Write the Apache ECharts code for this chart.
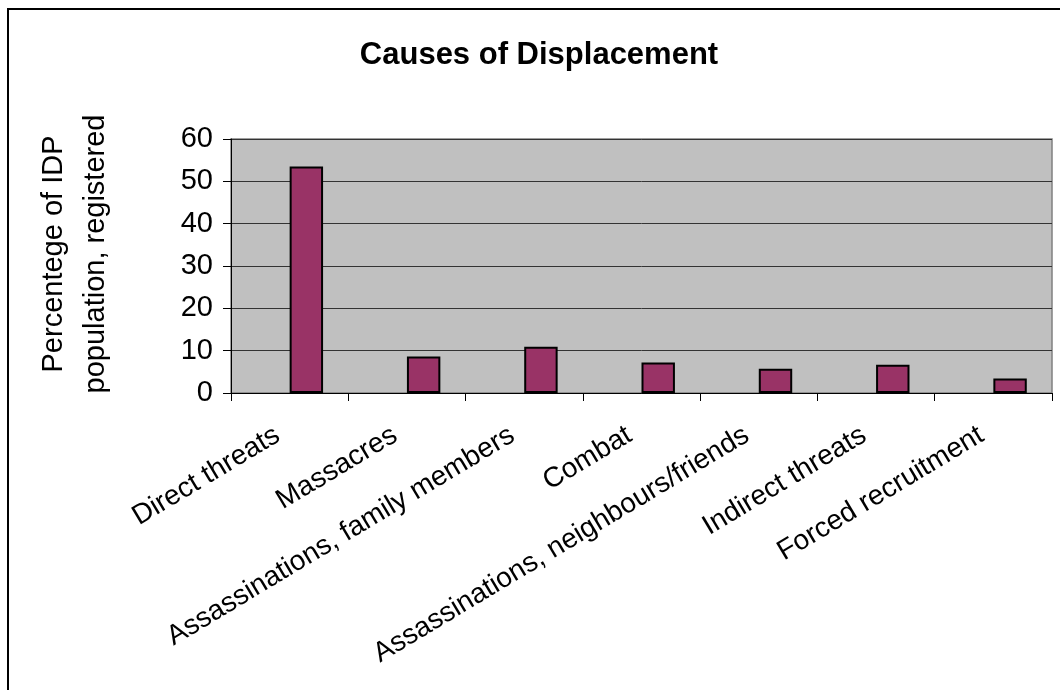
<!DOCTYPE html>
<html>
<head>
<meta charset="utf-8">
<title>Causes of Displacement</title>
<script src="https://cdn.jsdelivr.net/npm/echarts@6/dist/echarts.min.js"></script>
<style>
  html, body { margin: 0; padding: 0; background: #ffffff; }
  #chart { width: 1060px; height: 690px; }
</style>
</head>
<body>
<div id="chart"></div>
<script>
// Causes of displacement, share of registered IDP population (%)
const categories = [
  'Direct threats',
  'Massacres',
  'Assassinations, family members',
  'Combat',
  'Assassinations, neighbours/friends',
  'Indirect threats',
  'Forced recruitment'
];
const percentValues = [53.5, 8.6, 10.9, 7.2, 5.7, 6.7, 3.4];
// empty companion series: keeps the drawn bar in the right half of each category
const emptySlot = categories.map(() => null);
const yTicks = { min: 0, max: 60, step: 10 };

const FONT = '"Liberation Sans", Arial, Helvetica, sans-serif';

const chart = echarts.init(document.getElementById('chart'), null, { renderer: 'canvas' });

chart.setOption({
  animation: false,
  backgroundColor: '#ffffff',
  title: {
    text: 'Causes of Displacement',
    left: 534,
    top: 35,
    textAlign: 'center',
    textStyle: { fontFamily: FONT, fontSize: 31, fontWeight: 'bold', color: '#000' }
  },
  grid: {
    left: 231,
    right: 8,
    top: 139,
    bottom: 297,
    show: true,
    backgroundColor: '#c0c0c0',
    borderColor: '#808080',
    borderWidth: 1.5
  },
  xAxis: {
    type: 'category',
    data: categories,
    axisLine: { show: true, lineStyle: { color: '#000', width: 1 } },
    axisTick: { show: true, length: 8, lineStyle: { color: '#000' } },
    axisLabel: {
      rotate: 31,
      interval: 0,
      margin: 33,
      padding: [0, 14, 0, 0],
      fontFamily: FONT,
      fontSize: 28,
      color: '#000'
    },
    splitLine: { show: false }
  },
  yAxis: {
    type: 'value',
    min: yTicks.min,
    max: yTicks.max,
    interval: yTicks.step,
    axisLine: { show: true, lineStyle: { color: '#000', width: 1 } },
    axisTick: { show: true, length: 8, lineStyle: { color: '#000' } },
    axisLabel: { margin: 18, fontFamily: FONT, fontSize: 29, color: '#000' },
    splitLine: { show: true, lineStyle: { color: '#333', width: 1 } }
  },
  series: [
    {
      name: 'spacer',
      type: 'bar',
      data: emptySlot,
      barGap: '0%',
      barCategoryGap: '43%',
      silent: true
    },
    {
      name: 'Percentage',
      type: 'bar',
      data: percentValues,
      barGap: '0%',
      barCategoryGap: '43%',
      itemStyle: { color: '#993366', borderColor: '#000', borderWidth: 2 }
    }
  ],
  graphic: [
    {
      type: 'rect',
      shape: { x: 8, y: 9, width: 1200, height: 900 },
      style: { fill: 'none', stroke: '#000', lineWidth: 2 },
      silent: true
    },
    {
      type: 'text',
      x: 75,
      y: 254,
      rotation: Math.PI / 2,
      style: {
        text: 'Percentege of IDP\npopulation, registered',
        fontFamily: FONT,
        fontSize: 29,
        lineHeight: 42,
        fill: '#000',
        textAlign: 'center',
        textVerticalAlign: 'middle'
      }
    }
  ]
});
</script>
</body>
</html>
